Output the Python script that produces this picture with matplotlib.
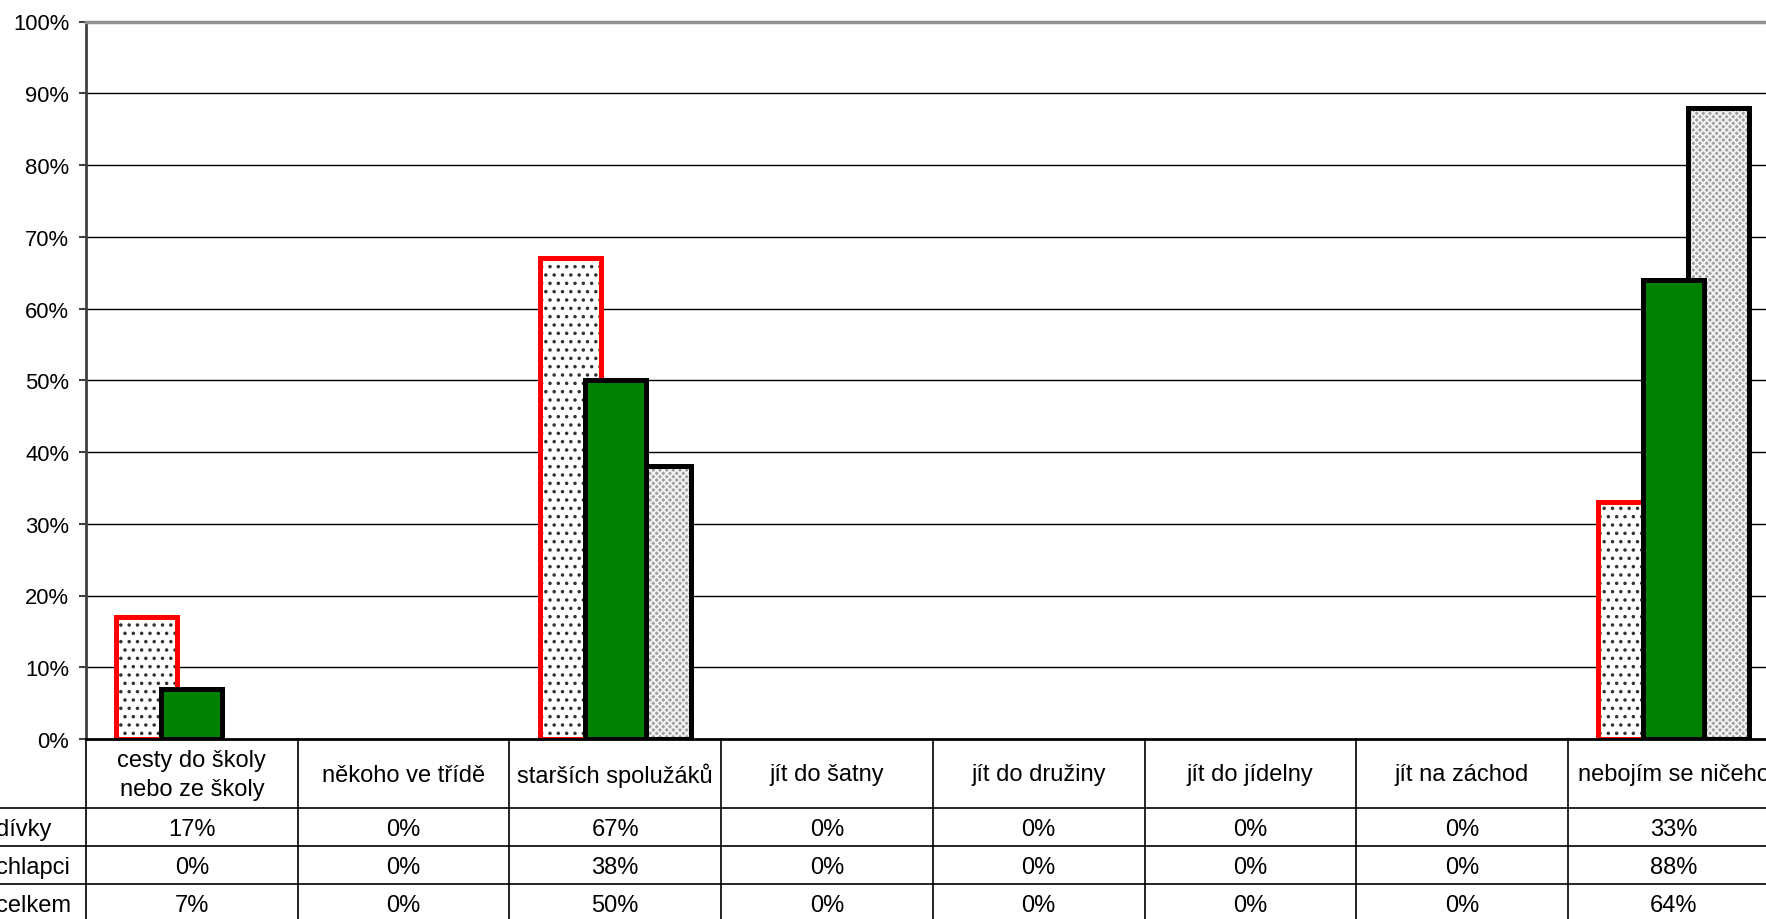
import matplotlib
matplotlib.use("Agg")
import matplotlib.pyplot as plt
import matplotlib.transforms as mtransforms
from matplotlib.lines import Line2D
import numpy as np

plt.rcParams['font.family'] = ['Liberation Sans', 'DejaVu Sans']
plt.rcParams['hatch.linewidth'] = 1.3

categories = ['cesty do školy\nnebo ze školy', 'někoho ve třídě', 'starších spolužáků',
              'jít do šatny', 'jít do družiny', 'jít do jídelny', 'jít na záchod',
              'nebojím se ničeho']
row_labels = ['dívky', 'chlapci', 'celkem']
divky = [17, 0, 67, 0, 0, 0, 0, 33]
chlapci = [0, 0, 38, 0, 0, 0, 0, 88]
celkem = [7, 0, 50, 0, 0, 0, 0, 64]
yticks = [0, 10, 20, 30, 40, 50, 60, 70, 80, 90, 100]

W, H, DPI = 1766, 920, 100
fig = plt.figure(figsize=(W / DPI, H / DPI), dpi=DPI)

left_px, top_px, zero_px = 86, 22.5, 740
cat_w_px = 211.7
n = len(categories)
ax = fig.add_axes([left_px / W, 1 - zero_px / H, n * cat_w_px / W, (zero_px - top_px) / H])
ax.set_xlim(0, n)
ax.set_ylim(0, 100)

x = np.arange(n) + 0.5
bw = 0.287
off = 0.213
lw = 3.6

def lws(vals):
    return [lw if v > 0 else 0 for v in vals]

# dívky: dotted fill with red outline
ax.bar(x - off, divky, bw, color='white', edgecolor='#333333', hatch='..', linewidth=0, zorder=3)
ax.bar(x - off, divky, bw, fill=False, edgecolor='#ff0000', linewidth=lws(divky), zorder=3.1)
# chlapci: gray cross-hatch with black outline
ax.bar(x + off, chlapci, bw, color='#a0a0a0', edgecolor='#f4f4f4', hatch='xxxxx', linewidth=0, zorder=3.2)
ax.bar(x + off, chlapci, bw, fill=False, edgecolor='black', linewidth=lws(chlapci), zorder=3.3)
# celkem: green with black outline (front)
ax.bar(x, celkem, bw, color='#008000', edgecolor='black', linewidth=lws(celkem), zorder=4)

ax.set_yticks(yticks)
ax.set_yticklabels([f'{v}%' for v in yticks], fontsize=15.8)
ax.set_xticks([])
for yv in yticks[1:-1]:
    ax.axhline(yv, color='black', linewidth=1.0, zorder=1)
ax.tick_params(axis='y', direction='out', length=5, width=1.5, color='#404040', pad=7)
ax.spines['left'].set_color('#404040')
ax.spines['left'].set_linewidth(2)
ax.spines['top'].set_color('#909090')
ax.spines['top'].set_linewidth(2.5)
ax.spines['right'].set_visible(False)
ax.spines['bottom'].set_color('black')
ax.spines['bottom'].set_linewidth(2)
ax.spines['bottom'].set_zorder(5)

# data table below
blend = mtransforms.blended_transform_factory(ax.transData, fig.transFigure)
fy = lambda py: 1 - py / H
header_bottom = 809
row_h = 38
row_tops = [header_bottom + i * row_h for i in range(len(row_labels))]

for k in range(n + 1):
    fig.add_artist(Line2D([k, k], [fy(zero_px), fy(H + 5)], transform=blend, color='black', linewidth=1.2))
for i in range(len(row_labels)):
    fig.add_artist(Line2D([0, 1], [fy(row_tops[i]), fy(row_tops[i])], transform=fig.transFigure,
                          color='black', linewidth=1.2))

for k, c in enumerate(categories):
    fig.text(x[k], fy((zero_px + header_bottom) / 2 + 1), c, transform=blend, ha='center', va='center',
             fontsize=17, linespacing=1.38)

series_rows = [divky, chlapci, celkem]
for i, (lab, vals) in enumerate(zip(row_labels, series_rows)):
    yc = fy(row_tops[i] + row_h / 2 + 2)
    fig.text(-4 / W, yc, lab, transform=fig.transFigure, ha='left', va='center', fontsize=17)
    for k, v in enumerate(vals):
        fig.text(x[k], yc, f'{v}%', transform=blend, ha='center', va='center', fontsize=17)

fig.savefig('out.png', dpi=DPI)
